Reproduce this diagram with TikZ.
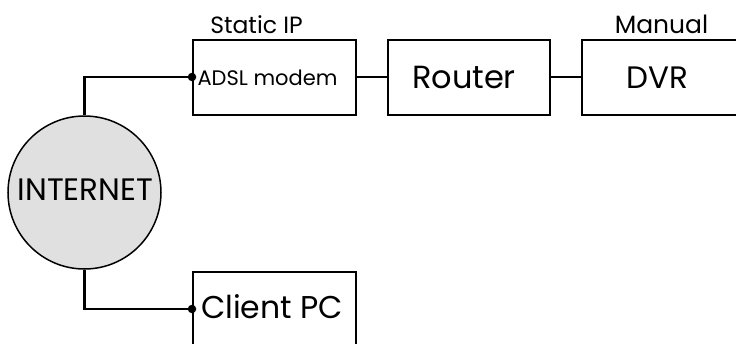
\documentclass[tikz,border=0pt]{standalone}
\usepackage{fontspec}
\setmainfont{Poppins}
\begin{document}
\begin{tikzpicture}[x=1pt,y=-1pt,
  box/.style={draw,line width=2.4pt,minimum width=163pt,minimum height=75pt,inner sep=0pt,anchor=north west},
  wire/.style={line width=2.4pt},
  lbl/.style={anchor=base,inner sep=0pt},
  dotend/.style={fill,circle,inner sep=0pt,minimum size=8.5pt}]
\useasboundingbox (0,0) rectangle (736,343);
\node[box] (modem) at (192,39) {};
\node[box,minimum width=162pt] (router) at (387,39) {};
\node[box,minimum width=200pt] (dvr) at (581,39) {};
\node[box,minimum height=100pt] (pc) at (192,271) {};
\node[draw,line width=1.5pt,circle,fill=black!12,minimum size=153pt,inner sep=0pt] (net) at (84.5,192.5) {};
\node[lbl,font=\fontsize{31}{31}\selectfont] (tnet) at (85.5,200) {INTERNET};
\node[lbl,font=\fontsize{21}{21}\selectfont] (tmodem) at (267.5,85) {ADSL modem};
\node[lbl,font=\fontsize{32}{32}\selectfont] (trouter) at (464,88) {Router};
\node[lbl,font=\fontsize{31}{31}\selectfont] (tdvr) at (657.5,88) {DVR};
\node[lbl,font=\fontsize{31.5}{31.5}\selectfont] (tpc) at (272,318) {Client PC};
\node[lbl,font=\fontsize{23.5}{23.5}\selectfont] (sip) at (256.5,33) {Static IP};
\node[lbl,font=\fontsize{25}{25}\selectfont] (man) at (661.5,33) {Manual};
\coordinate (m1) at (modem.west |- 0,77);
\coordinate (p1) at (pc.west |- 0,309);
\draw[wire] (net.north) |- (m1);
\draw[wire] (net.south) |- (p1);
\node[dotend] at (m1) {};
\node[dotend] at (p1) {};
\draw[wire] (modem.east |- 0,77) -- (router.west |- 0,77);
\draw[wire] (router.east |- 0,77) -- (dvr.west |- 0,77);
\end{tikzpicture}
\end{document}
